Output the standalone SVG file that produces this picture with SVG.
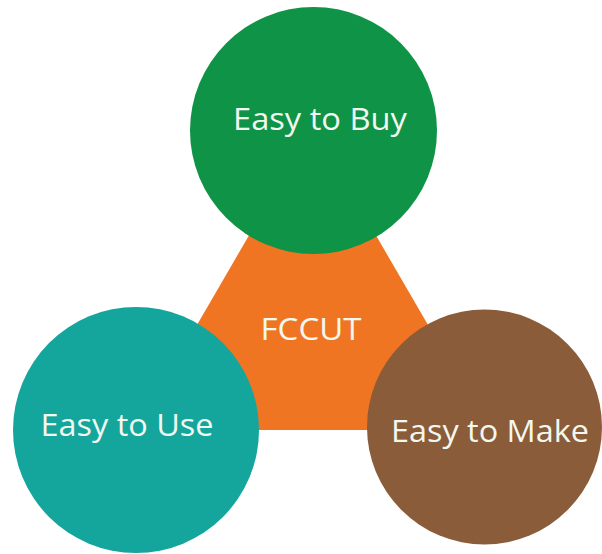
<svg xmlns="http://www.w3.org/2000/svg" width="602" height="554" viewBox="0 0 602 554">
<style>
.lbl{font-family:"Open Sans","Noto Sans","Liberation Sans",sans-serif;font-size:31px;fill:#f2f7ef;text-anchor:middle}
</style>
<rect width="602" height="554" fill="#ffffff"/>
<g id="center">
<polygon points="312.5,126 136,430 489,430" fill="#f07522"/>
<text class="lbl" x="311" y="340" textLength="101" lengthAdjust="spacingAndGlyphs">FCCUT</text>
</g>
<g id="buy">
<circle cx="313.5" cy="130.5" r="123.5" fill="#0f9346"/>
<text class="lbl" x="320" y="130" textLength="174" lengthAdjust="spacingAndGlyphs">Easy to Buy</text>
</g>
<g id="use">
<circle cx="136" cy="430" r="123" fill="#14a69c"/>
<text class="lbl" x="127" y="436" textLength="173" lengthAdjust="spacingAndGlyphs">Easy to Use</text>
</g>
<g id="make">
<circle cx="484.5" cy="427" r="117.5" fill="#8a5c3a"/>
<text class="lbl" x="490" y="442" textLength="198" lengthAdjust="spacingAndGlyphs">Easy to Make</text>
</g>
<g id="connectors"></g>
</svg>
